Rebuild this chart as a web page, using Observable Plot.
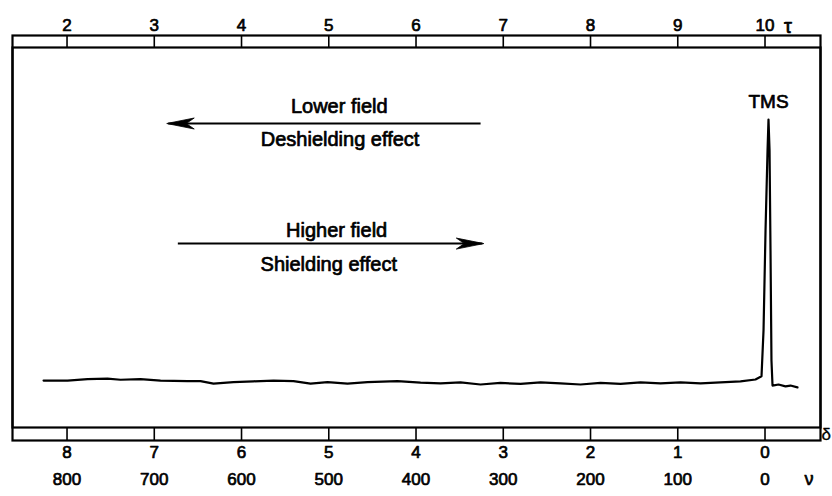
<!DOCTYPE html>
<html><head><meta charset="utf-8">
<script src="https://cdn.jsdelivr.net/npm/d3@7"></script>
<script src="https://cdn.jsdelivr.net/npm/@observablehq/plot@0.6"></script>
<style>html,body{margin:0;padding:0;background:#fff;} #chart svg{display:block;}</style>
</head><body><div id="chart"></div>
<script>
// Scales: chemical shift δ (ppm), τ = 10 − δ, ν (Hz at 100 MHz) = 100·δ
const deltaTicks = [8, 7, 6, 5, 4, 3, 2, 1, 0];
const tauTicks = [2, 3, 4, 5, 6, 7, 8, 9, 10];
const nuTicks = [800, 700, 600, 500, 400, 300, 200, 100, 0];

// Spectrum trace (δ, relative intensity)
const specDelta = [8.269, 7.994, 7.765, 7.536, 7.387, 7.158, 6.928, 6.619, 6.470, 6.321,
  6.092, 5.862, 5.633, 5.404, 5.209, 5.014, 4.785, 4.556, 4.212, 3.948,
  3.719, 3.490, 3.261, 3.032, 2.802, 2.573, 2.344, 2.115, 1.885, 1.656,
  1.427, 1.198, 0.968, 0.739, 0.510, 0.281, 0.109, 0.040, 0.017, -0.006,
  -0.029, -0.040, -0.052, -0.063, -0.074, -0.086, -0.155, -0.235, -0.292, -0.372];
const specIntensity = [0.011, 0.011, 0.016, 0.018, 0.014, 0.016, 0.011, 0.009, 0.009, -0.001,
  0.005, 0.008, 0.011, 0.009, -0.001, 0.005, -0.001, 0.005, 0.009, 0.003,
  0.000, 0.004, -0.004, 0.002, -0.002, 0.004, 0.000, -0.004, 0.002, -0.002,
  0.004, 0.000, 0.004, 0.000, 0.004, 0.008, 0.015, 0.027, 0.201, 0.580,
  0.883, 1.000, 0.883, 0.504, 0.087, -0.008, -0.004, -0.011, -0.008, -0.015];

// Annotations (positions in δ / intensity units)
const noteText = ["Lower field", "Deshielding effect", "Higher field", "Shielding effect"];
const noteDelta = [4.88, 4.87, 4.91, 5.00];
const noteIntensity = [1.049, 0.924, 0.580, 0.451];
const arrowFrom = [3.26, 6.73];
const arrowTo = [6.84, 3.24];
const arrowIntensity = [0.985, 0.530];
const peakLabel = "TMS";
const peakDelta = -0.04;
const peakIntensity = 1.0;

const spectrum = specDelta.map((d, i) => ({delta: d, intensity: specIntensity[i]}));
const notes = noteText.map((t, i) => ({text: t, delta: noteDelta[i], intensity: noteIntensity[i]}));
const arrows = arrowFrom.map((f, i) => ({from: f, to: arrowTo[i], intensity: arrowIntensity[i]}));

function filledArrow(color) {
  const m = d3.create("svg:marker")
    .attr("viewBox", "-28 -7 30 14")
    .attr("markerWidth", 30).attr("markerHeight", 14)
    .attr("markerUnits", "userSpaceOnUse")
    .attr("orient", "auto")
    .attr("refX", 0).attr("refY", 0)
    .attr("fill", color).attr("stroke", color).attr("stroke-width", 0.8);
  m.append("path").attr("d", "M1.5,0L-26,-5.5L-18,0L-26,5.5Z");
  return m.node();
}

const font = "'Liberation Sans', Arial, Helvetica, sans-serif";
const textStyle = {fill: "black", stroke: "black", strokeWidth: 0.7, fontFamily: font};

const chart = Plot.plot({
  width: 832,
  height: 496,
  marginTop: 35,
  marginBottom: 56,
  marginLeft: 12,
  marginRight: 12,
  style: {background: "white", fontFamily: font},
  x: {type: "linear", domain: [8.625, -0.636], axis: null},
  y: {type: "linear", domain: [-0.167, 1.273], insetTop: 12, insetBottom: 13, axis: null},
  marks: [
    Plot.frame({stroke: "black", strokeWidth: 2.2}),
    Plot.frame({stroke: "black", strokeWidth: 2.2, insetTop: 12, insetBottom: 13}),
    // τ ticks in the top band
    Plot.ruleX(tauTicks, {x: (t) => 10 - t, insetBottom: 393, stroke: "black", strokeWidth: 1.6}),
    // δ ticks in the bottom band
    Plot.ruleX(deltaTicks, {x: (d) => d, insetTop: 392, stroke: "black", strokeWidth: 1.6}),
    // τ labels
    Plot.text(tauTicks, {x: (t) => 10 - t, text: (t) => String(t), frameAnchor: "top", dy: -17, fontSize: 17, ...textStyle}),
    Plot.text(["τ"], {x: () => 10 - tauTicks[tauTicks.length - 1], text: (d) => d, frameAnchor: "top", dy: -17, dx: 23, fontSize: 20, ...textStyle}),
    // δ labels
    Plot.text(deltaTicks, {x: (d) => d, text: (d) => String(d), frameAnchor: "bottom", dy: 17, fontSize: 17, ...textStyle}),
    Plot.text(["δ"], {text: (d) => d, frameAnchor: "bottom-right", dx: 1, dy: -1, textAnchor: "start", fontSize: 17, strokeWidth: 0.3, fill: "black", stroke: "black", fontFamily: font}),
    // ν labels
    Plot.text(nuTicks, {x: (n) => n / 100, text: (n) => String(n), frameAnchor: "bottom", dy: 44, fontSize: 17, ...textStyle}),
    Plot.text(["ν"], {x: () => nuTicks[nuTicks.length - 1] / 100, text: (d) => d, frameAnchor: "bottom", dy: 44, dx: 44, fontSize: 18, ...textStyle}),
    // spectrum
    Plot.line(spectrum, {x: "delta", y: "intensity", stroke: "black", strokeWidth: 2.2, strokeLinejoin: "round"}),
    Plot.text([peakLabel], {x: () => peakDelta, y: () => peakIntensity, text: (d) => d, dy: -18, fontSize: 19, ...textStyle}),
    // field-direction arrows
    Plot.link(arrows, {x1: "from", x2: "to", y1: "intensity", y2: "intensity", stroke: "black", strokeWidth: 2, markerEnd: filledArrow}),
    Plot.text(notes, {x: "delta", y: "intensity", text: "text", fontSize: 20, ...textStyle})
  ]
});
document.getElementById("chart").appendChild(chart);
</script>
</body></html>
